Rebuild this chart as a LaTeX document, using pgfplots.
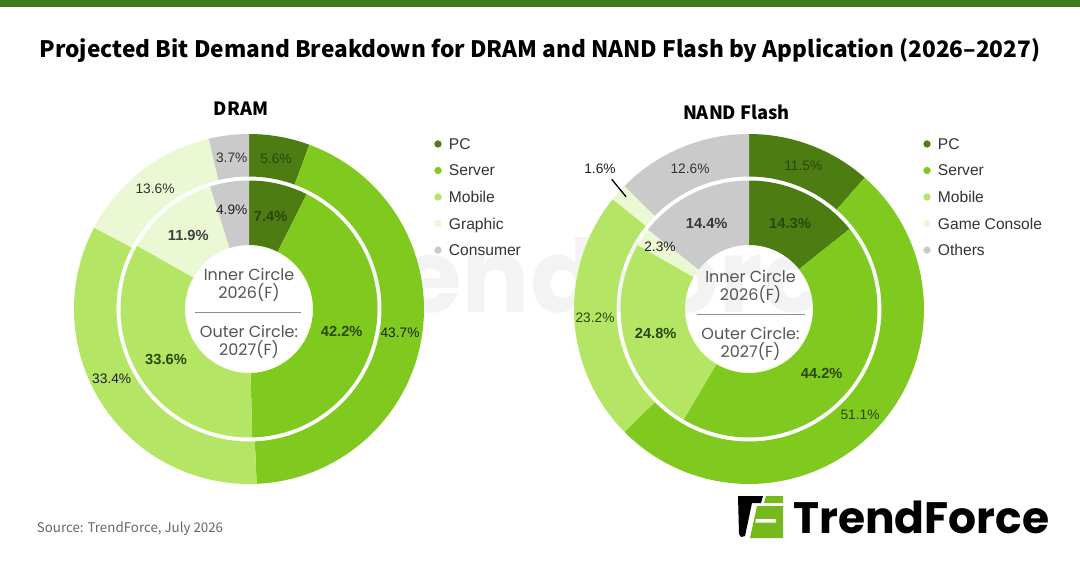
\documentclass[border=0pt]{standalone}
\usepackage{fontspec}
\usepackage{pgfplots}
\pgfplotsset{compat=1.18}
\setmainfont{Liberation Sans}
\newfontfamily\srcsans{Noto Sans CJK SC}
\newfontfamily\pop{Poppins}

\definecolor{cpc}{HTML}{4C7C12}
\definecolor{csrv}{HTML}{80C91E}
\definecolor{cmob}{HTML}{B5E564}
\definecolor{cgra}{HTML}{EAF8D3}
\definecolor{ccon}{HTML}{CACACA}
\definecolor{topbar}{HTML}{3D7A1F}
\definecolor{dkl}{HTML}{2C470C}
\definecolor{c555}{HTML}{555555}
\definecolor{c666}{HTML}{666666}
\definecolor{wm}{HTML}{F3F3F3}

% one ring segment: name, cx, cy, r_in, r_out, start (%), value (%), colour
% outer arc drawn by pgfplots from the data, closed back along the inner arc
\newcommand{\seg}[8]{%
  \addplot[forget plot, fill=#8, draw=none, domain=#6:#6+#7, samples=60, variable=\t]
    ({#2+#5*sin(3.6*\t)},{#3-#5*cos(3.6*\t)})
    -- (axis cs:{#2+#4*sin(3.6*(#6+#7))},{#3-#4*cos(3.6*(#6+#7))})
    arc[start angle={90-3.6*(#6+#7)}, end angle={90-3.6*(#6)}, radius={#4*0.75pt}]
    -- cycle;
}

\tikzset{
  lab/.style={anchor=center, inner sep=0pt, text depth=0pt, text height=7.4pt,
              font=\fontsize{10.3}{12}\selectfont, text=black!88},
  blab/.style={anchor=center, inner sep=0pt, text depth=0pt, text height=7.9pt,
              font=\fontsize{11}{13}\selectfont\bfseries, text=dkl},
  ctr/.style={anchor=center, inner sep=0pt, text depth=0pt, text height=8.3pt,
              font=\pop\fontsize{12}{14}\selectfont, text=c555},
}

\pgfplotsset{
  donut/.style={x=0.75pt, y=0.75pt, ymin=0, ymax=560, y dir=reverse,
    hide axis, clip=false, enlargelimits=false, anchor=south west,
    legend cell align=left,
    legend image code/.code={\fill[##1] (0pt,0pt) circle (2.5pt);},
    legend style={anchor=north west, draw=none, fill=none, inner sep=0pt, outer sep=0pt,
      row sep=8.1pt, column sep=5.5pt, font=\fontsize{11.7}{13}\selectfont, text=black!80,
      nodes={inner sep=0pt, text height=10pt, text depth=1.8pt}},
  }
}

\begin{document}
\begin{tikzpicture}
\fill[white] (0,0) rectangle (810pt,420pt);
% faint watermark behind the charts
\node[anchor=base west, inner sep=0pt, font=\pop\bfseries\fontsize{76}{84}\selectfont, text=wm]
  at (222pt,185.25pt) {TrendForce};

%================ DRAM =================
\begin{axis}[donut, at={(0pt,0pt)}, xmin=0, xmax=540,
  legend style={at={(axis cs:434.4,136.1)}}]
\addlegendimage{cpc}\addlegendentry{PC}
\addlegendimage{csrv}\addlegendentry{Server}
\addlegendimage{cmob}\addlegendentry{Mobile}
\addlegendimage{cgra}\addlegendentry{Graphic}
\addlegendimage{ccon}\addlegendentry{Consumer}
% outer ring: 2027(F)
\seg{DOa}{249}{309}{132.5}{175}{0}{5.6}{cpc}
\seg{DOb}{249}{309}{132.5}{175}{5.6}{43.7}{csrv}
\seg{DOc}{249}{309}{132.5}{175}{49.3}{33.4}{cmob}
\seg{DOd}{249}{309}{132.5}{175}{82.7}{13.6}{cgra}
\seg{DOe}{249}{309}{132.5}{175}{96.3}{3.7}{ccon}
% inner ring: 2026(F)
\seg{DIa}{249}{309}{64}{128.5}{0}{7.4}{cpc}
\seg{DIb}{249}{309}{64}{128.5}{7.4}{42.2}{csrv}
\seg{DIc}{249}{309}{64}{128.5}{49.6}{33.6}{cmob}
\seg{DId}{249}{309}{64}{128.5}{83.2}{11.9}{cgra}
\seg{DIe}{249}{309}{64}{128.5}{95.1}{4.9}{ccon}

\fill[topbar] (axis cs:0,0) rectangle (axis cs:1080,7.5);
\node[anchor=base, inner sep=0pt, font=\srcsans\bfseries\fontsize{17}{21}\selectfont]
  at (axis cs:540,57.5) {Projected Bit Demand Breakdown for DRAM and NAND Flash by Application (2026–2027)};
\node[anchor=base, inner sep=0pt, font=\srcsans\bfseries\fontsize{13.7}{17}\selectfont]
  at (axis cs:241,116) {DRAM};
\node[anchor=base west, inner sep=0pt, font=\srcsans\fontsize{10}{12}\selectfont, text=c666]
  at (axis cs:36.7,532) {Source: TrendForce, July 2026};

% labels
\node[lab, text=black!80] at (axis cs:231.7,157.3) {3.7\%};
\node[lab, text=dkl] at (axis cs:276,158.3) {5.6\%};
\node[lab, text=black!80] at (axis cs:155,188.3) {13.6\%};
\node[lab] at (axis cs:400,332.7) {43.7\%};
\node[lab] at (axis cs:111.7,378.3) {33.4\%};
\node[lab] at (axis cs:231.7,210) {4.9\%};
\node[blab] at (axis cs:270.7,216) {7.4\%};
\node[blab, text=black!75] at (axis cs:188.3,235) {11.9\%};
\node[blab] at (axis cs:341.7,331.7) {42.2\%};
\node[blab] at (axis cs:166,359.3) {33.6\%};
% centre
\node[ctr] at (axis cs:249,275) {Inner Circle};
\node[ctr] at (axis cs:249,293.3) {2026(F)};
\draw[black!45, line width=0.5pt] (axis cs:195,312.3) -- (axis cs:301,312.3);
\node[ctr] at (axis cs:249,331.7) {Outer Circle:};
\node[ctr] at (axis cs:249,350) {2027(F)};
\end{axis}

%================ NAND Flash =================
\begin{axis}[donut, at={(405pt,0pt)}, xmin=540, xmax=1080,
  legend style={at={(axis cs:923.4,136.1)}}]
\addlegendimage{cpc}\addlegendentry{PC}
\addlegendimage{csrv}\addlegendentry{Server}
\addlegendimage{cmob}\addlegendentry{Mobile}
\addlegendimage{cgra}\addlegendentry{Game Console}
\addlegendimage{ccon}\addlegendentry{Others}
% outer ring: 2027(F)
\seg{NOa}{749}{309}{132.5}{175}{0}{11.5}{cpc}
\seg{NOb}{749}{309}{132.5}{175}{11.5}{51.1}{csrv}
\seg{NOc}{749}{309}{132.5}{175}{62.6}{23.2}{cmob}
\seg{NOd}{749}{309}{132.5}{175}{85.8}{1.6}{cgra}
\seg{NOe}{749}{309}{132.5}{175}{87.4}{12.6}{ccon}
% inner ring: 2026(F)
\seg{NIa}{749}{309}{64}{128.5}{0}{14.3}{cpc}
\seg{NIb}{749}{309}{64}{128.5}{14.3}{44.2}{csrv}
\seg{NIc}{749}{309}{64}{128.5}{58.5}{24.8}{cmob}
\seg{NId}{749}{309}{64}{128.5}{83.3}{2.3}{cgra}
\seg{NIe}{749}{309}{64}{128.5}{85.6}{14.4}{ccon}

\node[anchor=base, inner sep=0pt, font=\srcsans\bfseries\fontsize{13.7}{17}\selectfont]
  at (axis cs:736.5,120) {NAND Flash};

% labels
\node[lab] at (axis cs:600,168.3) {1.6\%};
\draw[black, line width=1pt] (axis cs:611.7,179.3) -- (axis cs:626,196.7);
\node[lab, text=black!80] at (axis cs:690,168.3) {12.6\%};
\node[lab, text=dkl] at (axis cs:803.3,166) {11.5\%};
\node[blab, text=black!78] at (axis cs:706.7,223.3) {14.4\%};
\node[blab] at (axis cs:790,223.3) {14.3\%};
\node[lab] at (axis cs:660,246.7) {2.3\%};
\node[lab, text=dkl] at (axis cs:595,317.7) {23.2\%};
\node[blab] at (axis cs:655.7,333.3) {24.8\%};
\node[blab] at (axis cs:821.7,373.3) {44.2\%};
\node[lab, text=dkl] at (axis cs:860,415) {51.1\%};
% centre
\node[ctr] at (axis cs:750.5,276.7) {Inner Circle};
\node[ctr] at (axis cs:750.5,295) {2026(F)};
\draw[black!45, line width=0.5pt] (axis cs:697,314) -- (axis cs:805,314);
\node[ctr] at (axis cs:750.5,334) {Outer Circle:};
\node[ctr] at (axis cs:750.5,352) {2027(F)};

% logo
\fill[black] (axis cs:738,496) -- (axis cs:763,496) -- (axis cs:761,503) -- (axis cs:752,503)
  -- (axis cs:745,536) -- (axis cs:741,537) -- (axis cs:739,534) -- cycle;
\fill[csrv!92!black] (axis cs:766,496) -- (axis cs:783,496) -- (axis cs:783,503) -- (axis cs:764,503) -- cycle;
\fill[csrv!92!black] (axis cs:757,506) -- (axis cs:783,506) -- (axis cs:783,538) -- (axis cs:750,538) -- cycle;
\fill[white] (axis cs:756,519) -- (axis cs:776,519) -- (axis cs:776,522.5) -- (axis cs:755.3,522.5) -- cycle;
\node[anchor=base west, inner sep=0pt, font=\pop\bfseries\fontsize{33}{36}\selectfont]
  at (axis cs:793,533) {TrendForce};
\end{axis}
\pgfresetboundingbox
\path (0,0) rectangle (810pt,420pt);
\end{tikzpicture}
\end{document}
